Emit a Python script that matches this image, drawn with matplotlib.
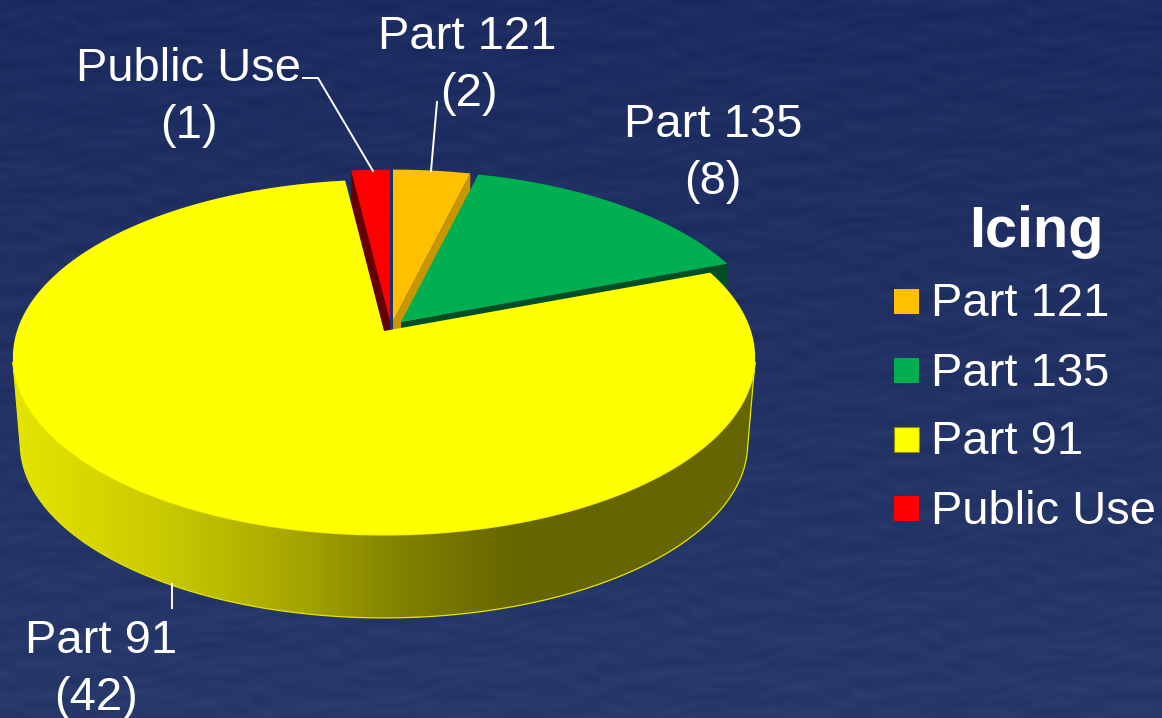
import numpy as np
import matplotlib
matplotlib.use("Agg")
import matplotlib.pyplot as plt
from matplotlib.patches import Polygon, Rectangle

plt.rcParams["font.family"] = ["Liberation Sans", "DejaVu Sans"]

# data, clockwise from 12 o'clock
categories = ["Part 121", "Part 135", "Part 91", "Public Use"]
counts = [2, 8, 42, 1]
chart_title = "Icing"

colors = ["#FFC000", "#00B050", "#FFFF00", "#FF0000"]
wall_colors = ["#C89600", "#004D26", "#666600", "#660000"]
# apex of every slice, the slices are pulled out a little (pixels)
apexes = [(393, 321), (401, 322), (384, 331), (390, 321)]

# pie projection, a tilted circle seen in perspective
RX = 367.0
RY = 173.8
PERSP = 0.148
DEPTH = 87
LOWER_SCALE = 0.98
SKEW = 1.5

label_pos = [(467, 37), (713, 125), (101, 641), (189, 69)]
count_pos = [(469, 94), (713, 182), (96, 698), (189, 126)]
leaders = [
    [(437, 102), (431, 171)],
    None,
    [(172, 584), (172, 608)],
    [(303, 78), (318, 78), (373, 171)],
]
legend_y = [289, 358, 427, 496]


def project(t_deg, apex, scale=1.0, drop=0):
    t = np.radians(t_deg - SKEW * np.cos(np.radians(t_deg)))
    d = 1 + PERSP * np.sin(t)
    x = apex[0] + scale * RX * np.cos(t) / d
    y = apex[1] + drop - scale * RY * np.sin(t) / d
    return np.column_stack([x, y])


def background():
    yy, xx = np.mgrid[0:718, 0:1162]
    warp = 9 * np.sin(xx / 47.0 + yy / 31.0) + 5 * np.sin(xx / 19.0 - yy / 43.0)
    ripple = (np.sin((yy + warp) / 2.6) * np.sin(xx / 23.0 + yy / 15.0)
              + 0.7 * np.sin((yy - warp) / 5.3 + xx / 61.0))
    shade = yy / 718.0
    img = np.zeros((718, 1162, 3))
    img[..., 0] = 29 + 10 * shade + 2.5 * ripple
    img[..., 1] = 44 + 12 * shade + 2.5 * ripple
    img[..., 2] = 96 + 10 * shade + 2.5 * ripple
    return img / 255.0


def main():
    fig = plt.figure(figsize=(11.62, 7.18), dpi=100)
    ax = fig.add_axes([0, 0, 1, 1])
    ax.imshow(background(), extent=(0, 1162, 718, 0), aspect="auto", zorder=0)

    # slice angles from the counts
    sweep = 360.0 * np.array(counts) / sum(counts)
    ends = 90 - np.cumsum(sweep)
    starts = ends + sweep

    # inner walls of the small slices, only the edge that faces the viewer
    small = [0, 1, 3]
    for i in small:
        edge = ends[i] if i != 3 else starts[i]
        rim = project(edge, apexes[i])[0]
        ax.add_patch(Polygon([apexes[i], rim, rim + (0, DEPTH),
                              np.array(apexes[i]) + (0, DEPTH)],
                             fc=wall_colors[i], ec="none", zorder=2))
    for i in small:
        ts = np.linspace(starts[i], ends[i], 60)
        pts = np.vstack([apexes[i], project(ts, apexes[i])])
        ax.add_patch(Polygon(pts, fc=colors[i], ec="none", zorder=3))

    # outer wall of the big slice with the light falling off to the right
    big = categories.index("Part 91")
    apex = apexes[big]
    tilt = np.degrees(np.arcsin(PERSP))
    ts = np.linspace(180 + tilt, 360 - tilt, 200)
    upper = project(ts, apex)
    lower = project(ts, apex, LOWER_SCALE, DEPTH)
    wall = Polygon(np.vstack([upper, lower[::-1]]), fc="none",
                   ec="#E6E600", lw=0.9, zorder=5)
    ax.add_patch(wall)
    xs = np.arange(0, 1162)
    level = np.interp(xs, [20, 170, 300, 400, 470, 520, 760],
                      [228, 200, 165, 130, 112, 102, 102])
    strip = np.zeros((1, 1162, 3))
    strip[..., 0] = level / 255.0
    strip[..., 1] = level / 255.0
    im = ax.imshow(strip, extent=(0, 1162, 718, 0), aspect="auto", zorder=4)
    im.set_clip_path(wall)

    ts = np.linspace(starts[big], ends[big], 400)
    pts = np.vstack([apex, project(ts, apex)])
    ax.add_patch(Polygon(pts, fc=colors[big], ec="none", zorder=6))

    # labels
    for i, name in enumerate(categories):
        ax.text(*label_pos[i], name, color="white", fontsize=33.9,
                ha="center", va="center", zorder=8)
        ax.text(*count_pos[i], "(%d)" % counts[i], color="white", fontsize=33.9,
                ha="center", va="center", zorder=8)
        if leaders[i] is not None:
            lx, ly = zip(*leaders[i])
            ax.plot(lx, ly, color="white", lw=1.4, zorder=7)

    # legend
    ax.text(1036, 232, chart_title, color="white", fontsize=41.5,
            fontweight="bold", ha="center", va="center", zorder=8)
    for i, name in enumerate(categories):
        edge = "#8C8C00" if i == big else "none"
        ax.add_patch(Rectangle((894, legend_y[i]), 25, 25, fc=colors[i],
                               ec=edge, lw=0.8, zorder=8))
        ax.text(931, legend_y[i] + 15.5, name, color="white", fontsize=33.9,
                ha="left", va="center", zorder=8)

    ax.set_xlim(0, 1162)
    ax.set_ylim(718, 0)
    ax.axis("off")
    fig.savefig("out.png", dpi=100)


if __name__ == "__main__":
    main()
